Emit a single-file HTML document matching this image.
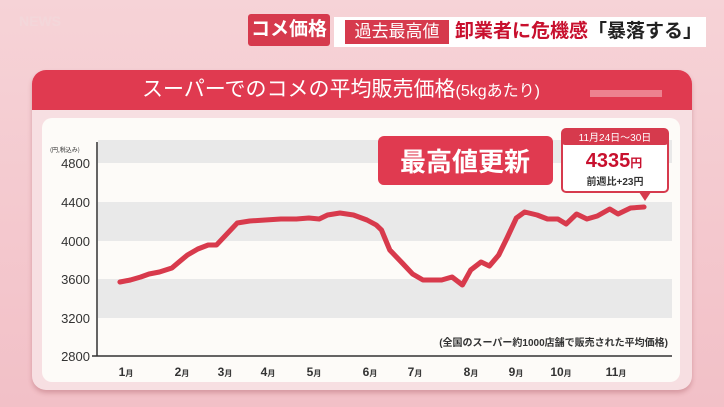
<!DOCTYPE html>
<html><head><meta charset="utf-8"><style>
body{margin:0;width:724px;height:407px;overflow:hidden;background:#f3c3c9;font-family:"Liberation Sans","Noto Sans CJK JP",sans-serif;position:relative}
.a{position:absolute}
</style></head><body>
<div class="a" style="left:0;top:0;width:724px;height:407px;background:linear-gradient(180deg,#f6d3d7,#f2c0c7)"></div>
<div class="a" style="left:10px;top:12px;width:60px;height:50px;color:#f3d9dc;font-size:14px;font-weight:bold;line-height:18px;text-align:center;opacity:.8">NEWS</div>
<div class="a" style="left:248px;top:14px;width:82px;height:32px;background:#d63a4d;color:#fff;font-size:19px;font-weight:bold;line-height:32px;text-align:center;border-radius:3px">コメ価格</div>
<div class="a" style="left:334px;top:17px;width:372px;height:30px;background:#fff;"></div>
<div class="a" style="left:345px;top:20px;width:104px;height:24px;background:#d63a4d;color:#fff;font-size:17px;line-height:24px;text-align:center">過去最高値</div>
<div class="a" style="left:455px;top:17px;height:30px;color:#c8102e;font-size:19px;font-weight:bold;line-height:30px;white-space:nowrap">卸業者に危機感<span style="color:#222">「暴落する」</span></div>
<div class="a" style="left:32px;top:70px;width:660px;height:320px;background:#f7dfe2;border-radius:14px;box-shadow:0 3px 5px rgba(150,60,70,.3)"></div>
<div class="a" style="left:32px;top:70px;width:660px;height:40px;background:#e03a50;border-radius:14px 14px 0 0"></div>
<div class="a" style="left:142px;top:73px;color:#fff;font-size:21px;line-height:34px;white-space:nowrap">スーパーでのコメの平均販売価格<span style="font-size:16px">(5kgあたり)</span></div>
<div class="a" style="left:590px;top:90px;width:72px;height:7px;background:#f2a0aa;opacity:.7"></div>
<div class="a" style="left:42px;top:118px;width:638px;height:264px;background:#fdfbf8;border-radius:10px"></div>
<svg class="a" style="left:0;top:0" width="724" height="407">
<rect x="98" y="140" width="574" height="23" fill="#e9e9e9"/>
<rect x="98" y="202" width="574" height="39" fill="#e9e9e9"/>
<rect x="98" y="279" width="574" height="39" fill="#e9e9e9"/>
<line x1="97" y1="142" x2="97" y2="356" stroke="#333" stroke-width="1.5"/>
<line x1="92" y1="356" x2="672" y2="356" stroke="#333" stroke-width="1.5"/>
<g font-size="13" fill="#333" text-anchor="end" font-family="Liberation Sans,sans-serif">
<text x="90" y="168">4800</text><text x="90" y="207">4400</text><text x="90" y="246">4000</text><text x="90" y="284">3600</text><text x="90" y="323">3200</text><text x="90" y="361">2800</text></g>
<text x="50" y="152" font-size="6" fill="#333" font-family="Noto Sans CJK JP,sans-serif">(円,税込み)</text>
<g font-size="12" fill="#333" font-weight="bold" text-anchor="middle" font-family="Liberation Sans,Noto Sans CJK JP,sans-serif">
<text x="126" y="376">1<tspan font-size="8">月</tspan></text><text x="182" y="376">2<tspan font-size="8">月</tspan></text><text x="225" y="376">3<tspan font-size="8">月</tspan></text><text x="268" y="376">4<tspan font-size="8">月</tspan></text><text x="314" y="376">5<tspan font-size="8">月</tspan></text><text x="370" y="376">6<tspan font-size="8">月</tspan></text><text x="415" y="376">7<tspan font-size="8">月</tspan></text><text x="471" y="376">8<tspan font-size="8">月</tspan></text><text x="516" y="376">9<tspan font-size="8">月</tspan></text><text x="561" y="376">10<tspan font-size="8">月</tspan></text><text x="616" y="376">11<tspan font-size="8">月</tspan></text></g>
<text x="668" y="346" font-size="10" fill="#333" text-anchor="end" font-weight="bold" font-family="Liberation Sans,Noto Sans CJK JP,sans-serif">(全国のスーパー約1000店舗で販売された平均価格)</text>
<g transform="translate(120,0) scale(1.0376,1) translate(-120,0)">
<polyline fill="none" stroke="#d83a4c" stroke-width="5" stroke-linejoin="round" stroke-linecap="round" points="120,282 130,280 140,277 148,274 158,272 170,268 178,261 185,255 195,249 205,245 213,245 223,234 233,223 245,221 260,220 275,219 290,219 302,218 312,219 320,215 332,213 345,215 358,220 367,225 372,230 380,250 392,263 402,274 412,280 430,280 440,277 450,285 458,270 468,262 476,266 485,255 493,238 502,218 510,212 522,215 532,219 542,219 550,224 560,214 570,219 580,216 592,209 600,214 612,208 625,207"/>
</g>
<rect x="378" y="136" width="175" height="49" rx="6" fill="#e03a50"/>
<text x="465" y="171" font-size="26" fill="#fff" font-weight="bold" text-anchor="middle" font-family="Noto Sans CJK JP,sans-serif">最高値更新</text>
<rect x="562" y="129" width="106" height="63" rx="4" fill="#fff" stroke="#d63a4d" stroke-width="2"/>
<rect x="562" y="129" width="106" height="16" rx="3" fill="#d63a4d"/>
<text x="615" y="141" font-size="10" fill="#fff" text-anchor="middle" font-family="Liberation Sans,Noto Sans CJK JP,sans-serif">11月24日～30日</text>
<text x="614" y="167" font-size="20" fill="#c8102e" font-weight="bold" text-anchor="middle" font-family="Liberation Sans,Noto Sans CJK JP,sans-serif">4335<tspan font-size="12">円</tspan></text>
<text x="615" y="185" font-size="10" fill="#333" font-weight="bold" text-anchor="middle" font-family="Liberation Sans,Noto Sans CJK JP,sans-serif">前週比+23円</text>
<polygon points="639,192 651,192 645,201" fill="#d63a4d"/>
</svg>
</body></html>
